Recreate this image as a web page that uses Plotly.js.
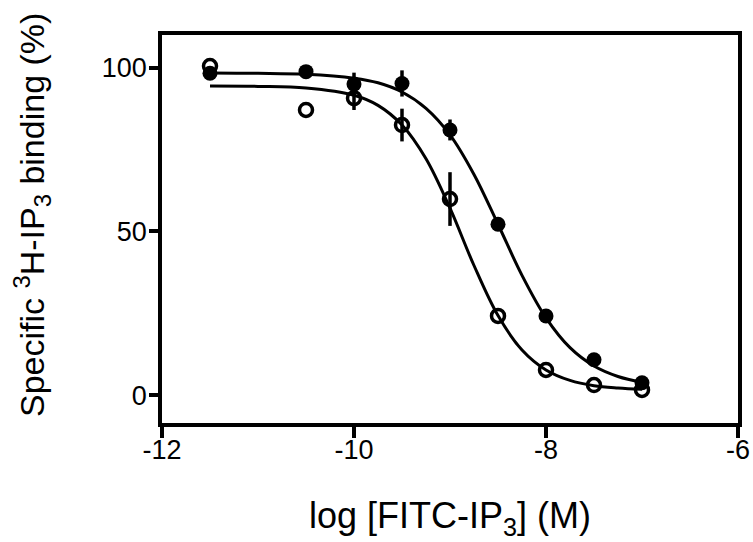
<!DOCTYPE html>
<html>
<head>
<meta charset="utf-8">
<script src="https://cdn.plot.ly/plotly-3.0.1.min.js"></script>
<style>html,body{margin:0;padding:0;background:#fff;}#chart{width:753px;height:542px;}</style>
</head>
<body>
<div id="chart"></div>
<script>
// Measured points
var logConc = [-11.5, -10.5, -10, -9.5, -9, -8.5, -8, -7.5, -7];
var closedVals = [98.3, 98.8, 95.0, 95.2, 81.0, 52.2, 24.2, 10.8, 3.8];
var closedErr  = [0, 0, 3.5, 4.0, 3.2, 0, 0, 0, 0];
var openVals   = [100.5, 87.1, 90.7, 82.5, 59.9, 24.2, 7.7, 3.1, 1.6];
var openErr    = [0, 0, 3.6, 5.0, 8.2, 0, 0, 0, 0];

// Fitted curves
var curveX = [-11.5, -11, -10.5, -10, -9.75, -9.5, -9.25, -9, -8.75, -8.5, -8.25, -8, -7.75, -7.5, -7.25, -7];
var closedCurve = [98.4, 98.3, 98.0, 96.8, 95.4, 92.6, 87.6, 79.5, 67.4, 52.2, 36.6, 23.6, 14.5, 8.9, 5.7, 3.9];
var openCurve   = [94.4, 94.3, 93.8, 91.6, 88.5, 82.5, 72.2, 57.1, 39.6, 24.3, 13.8, 7.7, 4.5, 2.9, 2.2, 1.8];

var xTicks = [-12, -10, -8, -6];
var xTickText = ['-12', '-10', '-8', '-6'];
var yTicks = [0, 50, 100];
var yTickText = ['0', '50', '100'];

var FONT = 'Arial, "Liberation Sans", Helvetica, sans-serif';

var traces = [
  {x: curveX, y: closedCurve, mode: 'lines', line: {color: '#000', width: 3, shape: 'spline'}, hoverinfo: 'skip'},
  {x: curveX, y: openCurve, mode: 'lines', line: {color: '#000', width: 3, shape: 'spline'}, hoverinfo: 'skip'},
  {x: logConc, y: closedVals, mode: 'markers',
   marker: {symbol: 'circle', size: 15, color: '#000'},
   error_y: {type: 'data', array: closedErr, visible: true, width: 0, thickness: 3.5, color: '#000'}},
  {x: logConc, y: openVals, mode: 'markers',
   marker: {symbol: 'circle-open', size: 13, color: '#000', line: {width: 3.5, color: '#000'}},
   error_y: {type: 'data', array: openErr, visible: true, width: 0, thickness: 3.5, color: '#000'}}
];

var layout = {
  width: 753, height: 542,
  margin: {l: 162, r: 15, t: 35, b: 119},
  paper_bgcolor: '#fff', plot_bgcolor: '#fff',
  showlegend: false,
  font: {family: FONT, color: '#000'},
  xaxis: {
    range: [-12, -6], tickvals: xTicks, ticktext: xTickText,
    showgrid: false, zeroline: false,
    showline: true, mirror: true, linecolor: '#000', linewidth: 3.5,
    ticks: 'outside', ticklen: 11, tickwidth: 3.5, tickcolor: '#000',
    ticklabelstandoff: -11,
    automargin: 'height',
    tickfont: {size: 27, family: FONT, color: '#000'},
    title: {text: 'log [FITC-IP<sub>3</sub>] (M)', font: {size: 36, family: FONT, color: '#000'}, standoff: 40}
  },
  yaxis: {
    range: [-8.5, 110], tickvals: yTicks, ticktext: yTickText,
    showgrid: false, zeroline: false,
    showline: true, mirror: true, linecolor: '#000', linewidth: 3.5,
    ticks: 'outside', ticklen: 9, tickwidth: 3.5, tickcolor: '#000',
    ticklabelstandoff: -3,
    automargin: 'width',
    tickfont: {size: 27, family: FONT, color: '#000'},
    title: {text: '&nbsp;&nbsp;&nbsp;Specific <sup>3</sup>H-IP<sub>3</sub> binding (%)', font: {size: 34, family: FONT, color: '#000'}, standoff: 48}
  }
};

Plotly.newPlot('chart', traces, layout, {displayModeBar: false});
</script>
</body>
</html>
